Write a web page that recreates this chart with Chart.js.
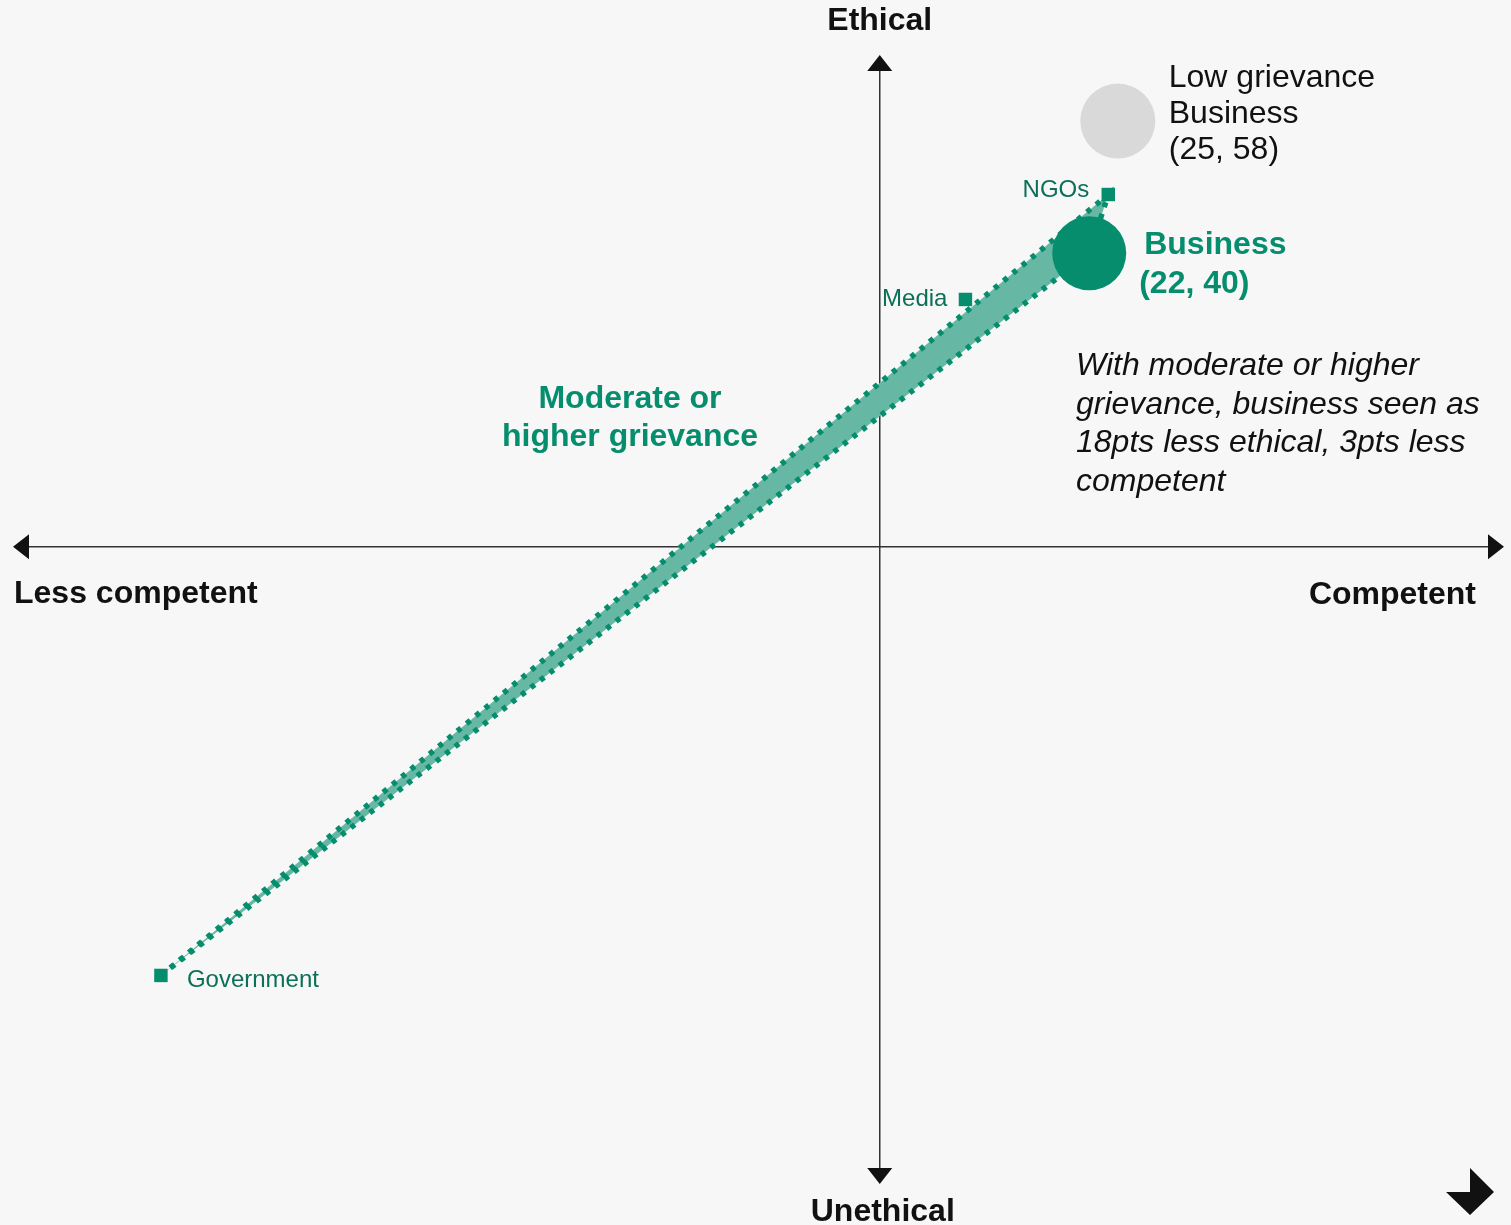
<!DOCTYPE html>
<html>
<head>
<meta charset="utf-8">
<script src="https://cdn.jsdelivr.net/npm/chart.js@4/dist/chart.umd.min.js"></script>
<style>
  html, body { margin: 0; padding: 0; background: #f7f7f7; }
  #wrap { width: 1511px; height: 1225px; position: relative; }
</style>
</head>
<body>
<div id="wrap"><canvas id="myChart"></canvas></div>
<script>
// Institutions plotted on competence (x) vs ethics (y)
const institutions = ['Government', 'NGOs', 'Media'];
const competence = [-75.5, 24, 9];
const ethics = [-58.4, 48, 33.7];

// Business, with moderate or higher grievance vs low grievance
const businessGrievance = { x: 22, y: 40 };
const businessLow = { x: 25, y: 58 };

// Axis labels and annotation text
const axisLabels = { top: 'Ethical', bottom: 'Unethical', left: 'Less competent', right: 'Competent' };
const lowLabel = ['Low grievance', 'Business', '(25, 58)'];
const businessLabel = ['Business', '(22, 40)'];
const groupLabel = ['Moderate or', 'higher grievance'];
const noteLines = ['With moderate or higher', 'grievance, business seen as', '18pts less ethical, 3pts less', 'competent'];

const dark = '#058d6d';
const light = '#66b8a4';
const labelGreen = '#0c6f57';

// points for the institutions
var instPoints = institutions.map(function (name, i) {
    return { x: competence[i], y: ethics[i] };
});

// wedge from Government to NGOs and Business
var band = [instPoints[0], instPoints[1], businessGrievance, instPoints[0]];

// draw axes, arrows, fill of wedge and all text
var quadPlugin = {
    id: 'quad',
    beforeDatasetsDraw: function (chart) {
        var ctx = chart.ctx;
        var area = chart.chartArea;
        var x0 = chart.scales.x.getPixelForValue(0);
        var y0 = chart.scales.y.getPixelForValue(0);
        var l = area.left + 13, r = area.right - 7, t = area.top + 55, b = area.top + 1184;
        ctx.save();
        ctx.strokeStyle = '#333';
        ctx.lineWidth = 1.5;
        ctx.beginPath();
        ctx.moveTo(l + 10, y0); ctx.lineTo(r - 10, y0);
        ctx.moveTo(x0, t + 10); ctx.lineTo(x0, b - 10);
        ctx.stroke();
        ctx.fillStyle = '#111';
        // arrow heads
        ctx.beginPath();
        ctx.moveTo(l, y0); ctx.lineTo(l + 16, y0 - 12.5); ctx.lineTo(l + 16, y0 + 12.5); ctx.closePath();
        ctx.moveTo(r, y0); ctx.lineTo(r - 16, y0 - 12.5); ctx.lineTo(r - 16, y0 + 12.5); ctx.closePath();
        ctx.moveTo(x0, t); ctx.lineTo(x0 - 12.5, t + 16); ctx.lineTo(x0 + 12.5, t + 16); ctx.closePath();
        ctx.moveTo(x0, b); ctx.lineTo(x0 - 12.5, b - 16); ctx.lineTo(x0 + 12.5, b - 16); ctx.closePath();
        ctx.fill();
        ctx.restore();
    },
    beforeDatasetDraw: function (chart, args) {
        if (args.index !== 0) return;
        var pts = args.meta.data;
        var ctx = chart.ctx;
        ctx.save();
        ctx.fillStyle = light;
        ctx.beginPath();
        pts.forEach(function (p, i) {
            if (i === 0) ctx.moveTo(p.x, p.y); else ctx.lineTo(p.x, p.y);
        });
        ctx.closePath();
        ctx.fill();
        ctx.restore();
    },
    afterDatasetsDraw: function (chart) {
        var ctx = chart.ctx;
        var area = chart.chartArea;
        var x0 = chart.scales.x.getPixelForValue(0);
        var y0 = chart.scales.y.getPixelForValue(0);
        var family = '"Liberation Sans", Arial, sans-serif';
        ctx.save();
        ctx.textBaseline = 'alphabetic';

        // axis labels
        ctx.fillStyle = '#111';
        ctx.font = 'bold 32px ' + family;
        ctx.textAlign = 'center';
        ctx.fillText(axisLabels.top, x0, area.top + 30);
        ctx.fillText(axisLabels.bottom, x0 + 3, area.top + 1221);
        ctx.textAlign = 'left';
        ctx.fillText(axisLabels.left, area.left + 14, y0 + 56);
        ctx.textAlign = 'right';
        ctx.fillText(axisLabels.right, area.right - 35, y0 + 57);

        // institution labels
        var inst = chart.getDatasetMeta(1).data;
        ctx.fillStyle = labelGreen;
        ctx.font = '24px ' + family;
        ctx.textAlign = 'left';
        ctx.fillText(institutions[0], inst[0].x + 26, inst[0].y + 12);
        ctx.textAlign = 'right';
        ctx.fillText(institutions[1], inst[1].x - 19, inst[1].y + 2);
        ctx.fillText(institutions[2], inst[2].x - 18, inst[2].y + 7);

        // business labels
        var bus = chart.getDatasetMeta(2).data[0];
        ctx.fillStyle = dark;
        ctx.font = 'bold 32px ' + family;
        ctx.textAlign = 'left';
        ctx.fillText(businessLabel[0], bus.x + 55, bus.y + 1);
        ctx.fillText(businessLabel[1], bus.x + 50, bus.y + 40);

        var low = chart.getDatasetMeta(3).data[0];
        ctx.fillStyle = '#111';
        ctx.font = '32px ' + family;
        lowLabel.forEach(function (s, i) {
            ctx.fillText(s, low.x + 51, low.y - 34 + i * 36);
        });

        // group label
        ctx.fillStyle = dark;
        ctx.font = 'bold 32px ' + family;
        ctx.textAlign = 'center';
        ctx.fillText(groupLabel[0], area.left + 630, area.top + 408);
        ctx.fillText(groupLabel[1], area.left + 630, area.top + 446);

        // note
        ctx.fillStyle = '#111';
        ctx.font = 'italic 32px ' + family;
        ctx.textAlign = 'left';
        noteLines.forEach(function (s, i) {
            ctx.fillText(s, area.left + 1076, area.top + 375 + i * 38.5);
        });

        // corner icon
        var cx = area.right - 41, cy = area.bottom - 33;
        ctx.fillStyle = '#111';
        ctx.beginPath();
        ctx.moveTo(cx, cy - 24);
        ctx.lineTo(cx + 24, cy);
        ctx.lineTo(cx, cy + 23);
        ctx.lineTo(cx - 24, cy);
        ctx.lineTo(cx, cy);
        ctx.closePath();
        ctx.fill();
        ctx.restore();
    }
};

var ctx = document.getElementById('myChart').getContext('2d');
var chart = new Chart(ctx, {
    type: 'scatter',
    data: {
        datasets: [
            {
                // wedge outline
                data: band,
                showLine: true,
                borderColor: dark,
                borderWidth: 5.5,
                borderDash: [5, 7],
                borderCapStyle: 'butt',
                pointRadius: 0,
                fill: false,
                order: 3
            },
            {
                data: instPoints,
                pointStyle: 'rect',
                pointRadius: 9.5,
                backgroundColor: dark,
                borderWidth: 0,
                order: 2
            },
            {
                data: [businessGrievance],
                pointRadius: 37,
                backgroundColor: dark,
                borderWidth: 0,
                order: 1
            },
            {
                data: [businessLow],
                pointRadius: 37.5,
                backgroundColor: '#d9d9d9',
                borderWidth: 0,
                order: 1
            }
        ]
    },
    options: {
        responsive: true,
        maintainAspectRatio: false,
        animation: false,
        layout: { padding: 0, autoPadding: false },
        clip: false,
        scales: {
            x: { type: 'linear', display: false, min: -92.4, max: 66.3 },
            y: { type: 'linear', display: false, min: -92.4, max: 74.5 }
        },
        plugins: {
            legend: { display: false },
            tooltip: { enabled: false }
        }
    },
    plugins: [quadPlugin]
});
</script>
</body>
</html>
